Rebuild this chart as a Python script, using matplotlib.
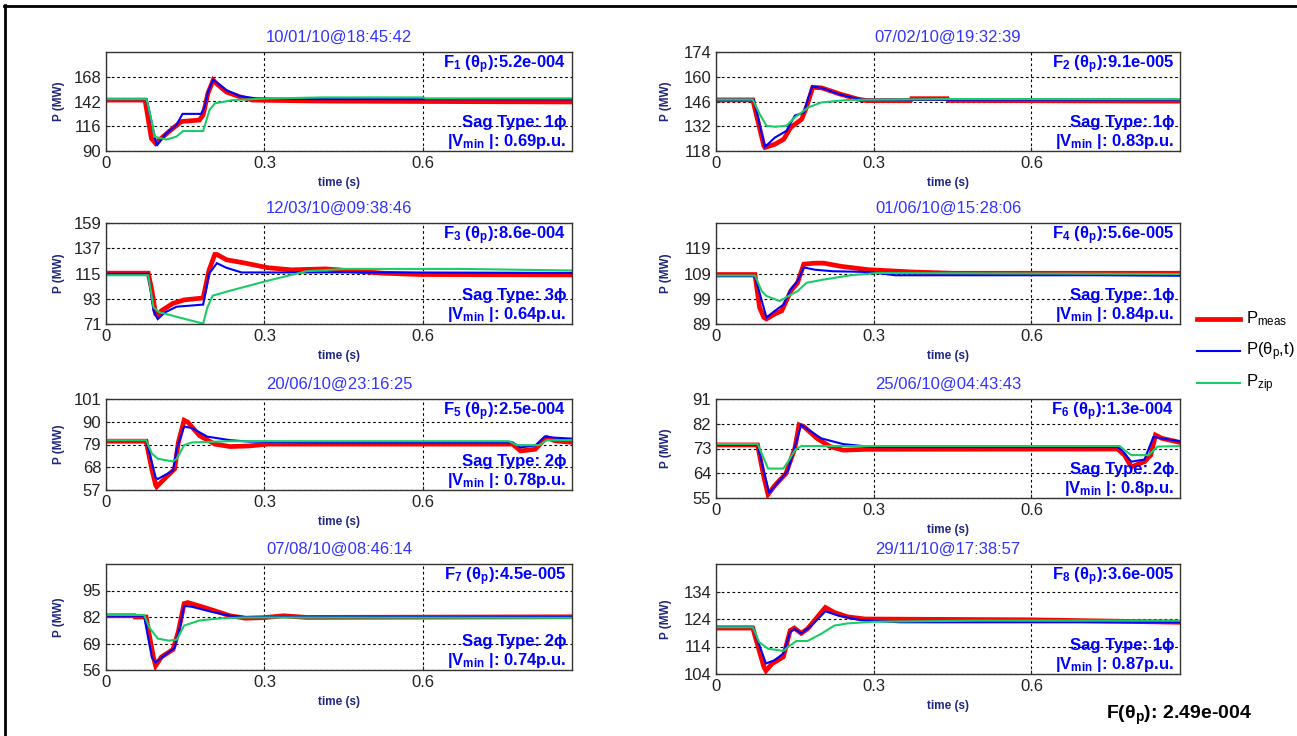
import matplotlib
matplotlib.use("Agg")
import matplotlib.pyplot as plt
from matplotlib.lines import Line2D

plt.rcParams['font.family'] = ['Liberation Sans', 'DejaVu Sans']
plt.rcParams['mathtext.fontset'] = 'custom'
plt.rcParams['mathtext.rm'] = 'Liberation Sans'
plt.rcParams['mathtext.it'] = 'Liberation Sans:italic'
plt.rcParams['mathtext.bf'] = 'Liberation Sans:bold'
plt.rcParams['mathtext.default'] = 'regular'

# ---------------- data (time [s], power [MW]) ----------------
titles = ['10/01/10@18:45:42', '07/02/10@19:32:39', '12/03/10@09:38:46', '01/06/10@15:28:06',
          '20/06/10@23:16:25', '25/06/10@04:43:43', '07/08/10@08:46:14', '29/11/10@17:38:57']
f_values = ['5.2e-004', '9.1e-005', '8.6e-004', '5.6e-005', '2.5e-004', '1.3e-004', '4.5e-005', '3.6e-005']
sag_types = ['1', '1', '3', '1', '2', '2', '2', '1']
v_min = ['0.69', '0.83', '0.64', '0.84', '0.78', '0.8', '0.74', '0.87']
y_ranges = [(90, 194), (118, 174), (71, 159), (89, 129), (57, 101), (55, 91), (56, 108), (104, 144)]
y_ticks = [[90, 116, 142, 168], [118, 132, 146, 160, 174], [71, 93, 115, 137, 159], [89, 99, 109, 119],
           [57, 68, 79, 90, 101], [55, 64, 73, 82, 91], [56, 69, 82, 95], [104, 114, 124, 134]]
x_ticks = [0, 0.3, 0.6]
x_tick_labels = ['0', '0.3', '0.6']
total_f = '2.49e-004'

meas_1 = [(0, 143.5), (0.074, 143.5), (0.086, 103), (0.094, 98), (0.108, 105), (0.127, 114), (0.143, 121),
          (0.177, 122.5), (0.184, 128), (0.193, 150.5), (0.203, 164.5), (0.209, 161), (0.228, 152), (0.253, 147),
          (0.278, 143.5), (0.40, 142.5), (0.60, 142), (0.885, 141.5)]
model_1 = [(0, 144.5), (0.077, 144.5), (0.096, 95.6), (0.114, 108.5), (0.133, 117), (0.145, 129), (0.180, 129),
           (0.187, 136.5), (0.193, 152), (0.203, 165), (0.228, 154), (0.253, 147.7), (0.284, 145.3), (0.40, 144.5),
           (0.885, 144.3)]
zip_1 = [(0, 144.5), (0.077, 144.5), (0.086, 122.5), (0.092, 105), (0.114, 102), (0.133, 105), (0.146, 111),
         (0.184, 111), (0.196, 133), (0.206, 140), (0.240, 143.5), (0.30, 145), (0.41, 146.3), (0.60, 146.3),
         (0.605, 145.3), (0.885, 145.3)]

meas_2 = [(0, 146.9), (0.070, 146.9), (0.091, 120.9), (0.093, 120), (0.112, 121.8), (0.129, 124.7), (0.142, 131.3),
          (0.163, 136), (0.172, 142.7), (0.184, 154), (0.201, 153.7), (0.235, 150.3), (0.269, 147.4), (0.286, 146.5),
          (0.37, 146.5), (0.372, 147.6), (0.44, 147.6), (0.442, 146.6), (0.885, 146.2)]
model_2 = [(0, 147), (0.072, 147), (0.093, 120.3), (0.112, 125.6), (0.134, 129.4), (0.150, 138), (0.167, 139.8),
           (0.176, 148.4), (0.183, 154.5), (0.201, 153.7), (0.235, 150), (0.277, 147), (0.885, 147)]
zip_2 = [(0, 147.1), (0.070, 147.1), (0.083, 138.9), (0.096, 132.3), (0.112, 131.7), (0.134, 132.3), (0.150, 137),
         (0.176, 142.7), (0.201, 145.5), (0.252, 146.9), (0.45, 147.4), (0.885, 147.3)]

meas_3 = [(0, 115.3), (0.080, 115.3), (0.087, 100), (0.094, 79.7), (0.098, 78.2), (0.105, 82.6), (0.127, 89),
          (0.148, 92), (0.184, 93.7), (0.195, 117.6), (0.206, 131.6), (0.210, 131.6), (0.228, 127), (0.264, 124),
          (0.307, 120), (0.351, 118.2), (0.416, 119), (0.524, 115.3), (0.597, 114.1), (0.885, 113.8)]
model_3 = [(0, 114.7), (0.080, 114.7), (0.090, 82.6), (0.098, 75.3), (0.112, 81.2), (0.134, 86.1), (0.184, 87.9),
           (0.195, 114.7), (0.210, 124), (0.228, 120), (0.257, 115.9), (0.50, 116), (0.885, 115.5)]
zip_3 = [(0, 113.5), (0.080, 113.5), (0.090, 85.5), (0.101, 81.2), (0.184, 71.3), (0.192, 85.5), (0.202, 95.7),
         (0.235, 100), (0.307, 108.8), (0.380, 117), (0.452, 119), (0.669, 119), (0.885, 117.6)]

meas_4 = [(0, 108.6), (0.074, 108.6), (0.083, 95.5), (0.091, 91.6), (0.096, 91), (0.112, 93), (0.125, 94.2),
          (0.142, 102), (0.155, 105.3), (0.167, 112.7), (0.188, 113.1), (0.205, 113.1), (0.239, 111.8),
          (0.290, 110.5), (0.374, 109.6), (0.45, 109.1), (0.885, 109.1)]
model_4 = [(0, 107.9), (0.074, 107.9), (0.096, 91.6), (0.112, 94.2), (0.129, 96.8), (0.142, 102.7), (0.155, 106),
           (0.167, 111.4), (0.188, 110.5), (0.222, 109.9), (0.290, 109.6), (0.341, 108.3), (0.72, 108.3),
           (0.885, 108.1)]
zip_4 = [(0, 108.2), (0.074, 108.2), (0.087, 102), (0.096, 100.1), (0.121, 98.1), (0.138, 100.1), (0.155, 102),
         (0.172, 105.3), (0.205, 106.6), (0.256, 108.3), (0.307, 109.2), (0.60, 109), (0.885, 108.8)]

meas_5 = [(0, 80.6), (0.076, 80.6), (0.087, 66.8), (0.094, 59.5), (0.096, 58.6), (0.112, 62.7), (0.130, 67.2),
          (0.137, 80), (0.148, 90.7), (0.155, 89.8), (0.177, 83.3), (0.206, 79.2), (0.235, 78), (0.271, 78.3),
          (0.307, 79.2), (0.50, 79.2), (0.770, 79.2), (0.785, 75.9), (0.813, 76.7), (0.828, 80.8), (0.835, 82.4),
          (0.850, 80.8), (0.885, 80)]
model_5 = [(0, 81.1), (0.076, 81.1), (0.094, 63.1), (0.098, 62.3), (0.127, 66.4), (0.134, 77.1), (0.148, 87.7),
           (0.163, 86.9), (0.192, 82.8), (0.235, 81.1), (0.271, 80.4), (0.40, 80), (0.770, 80), (0.785, 77.6),
           (0.813, 78.5), (0.831, 82.9), (0.850, 82.3), (0.885, 81.8)]
zip_5 = [(0, 81.1), (0.076, 81.1), (0.087, 74.6), (0.098, 72.1), (0.127, 70.8), (0.134, 72.1), (0.148, 78.7),
         (0.163, 80), (0.235, 80.6), (0.763, 80.6), (0.778, 78.7), (0.821, 78.7), (0.835, 81.1), (0.885, 81.1)]

meas_6 = [(0, 74.3), (0.079, 74.3), (0.091, 62.7), (0.099, 56.3), (0.112, 59.6), (0.133, 63.9), (0.150, 73.1),
          (0.158, 81.6), (0.167, 81), (0.192, 76.7), (0.217, 73.7), (0.242, 72.4), (0.285, 72.7), (0.764, 72.8),
          (0.777, 70.6), (0.790, 66.3), (0.815, 68.2), (0.827, 70.6), (0.836, 77.9), (0.848, 76.7), (0.885, 75.1)]
model_6 = [(0, 74.3), (0.079, 74.3), (0.101, 56.8), (0.116, 60.2), (0.137, 65.1), (0.150, 73.7), (0.162, 81.6),
           (0.200, 76.7), (0.242, 74.6), (0.30, 73.5), (0.764, 73.5), (0.772, 72.4), (0.790, 68.2), (0.815, 69),
           (0.832, 77.2), (0.848, 76.7), (0.885, 75.5)]
zip_6 = [(0, 74.6), (0.079, 74.6), (0.091, 69.4), (0.099, 65.7), (0.128, 65.7), (0.137, 68.2), (0.150, 72.4),
         (0.162, 73.9), (0.768, 73.9), (0.777, 72.4), (0.790, 70.6), (0.823, 70.6), (0.840, 73.7), (0.885, 73.9)]

meas_7 = [(0, 82.6), (0.054, 82.6), (0.055, 82), (0.076, 82), (0.083, 71.7), (0.090, 62.1), (0.094, 58.1),
          (0.105, 62.4), (0.127, 66.1), (0.137, 74.9), (0.148, 88.6), (0.155, 89.1), (0.192, 86.2), (0.235, 82.6),
          (0.264, 81.4), (0.300, 81.7), (0.336, 82.6), (0.380, 81.8), (0.885, 82.1)]
model_7 = [(0, 82.6), (0.072, 82.6), (0.087, 62.1), (0.094, 59.7), (0.112, 63.4), (0.130, 66.9), (0.141, 78.2),
           (0.148, 87.5), (0.163, 87), (0.199, 84.6), (0.235, 82.6), (0.264, 82), (0.885, 82)]
zip_7 = [(0, 83), (0.072, 83), (0.083, 76.5), (0.098, 71.4), (0.119, 70.4), (0.134, 70.9), (0.148, 77.8),
         (0.177, 80.3), (0.220, 81.4), (0.264, 81.8), (0.885, 81.6)]

meas_8 = [(0, 120.7), (0.070, 120.7), (0.082, 112.6), (0.091, 106.6), (0.095, 105.2), (0.107, 107.8),
          (0.128, 110.2), (0.141, 119.8), (0.149, 120.7), (0.162, 118.8), (0.174, 120.4), (0.200, 126.4),
          (0.208, 128.2), (0.225, 126.4), (0.250, 124.8), (0.283, 124), (0.60, 123.7), (0.885, 122.8)]
model_8 = [(0, 121.2), (0.070, 121.2), (0.095, 107.8), (0.111, 109), (0.128, 111.4), (0.141, 119.2),
           (0.149, 120.4), (0.162, 118.8), (0.178, 121), (0.200, 125.2), (0.208, 126.8), (0.233, 125.2),
           (0.275, 123.6), (0.35, 122.8), (0.885, 122.8)]
zip_8 = [(0, 121), (0.070, 121), (0.082, 115.6), (0.099, 113.2), (0.128, 112.4), (0.141, 114.4), (0.153, 116),
         (0.174, 116), (0.200, 118.6), (0.225, 121.6), (0.250, 122.4), (0.300, 123), (0.493, 123.4), (0.885, 123.4)]

meas_all = [meas_1, meas_2, meas_3, meas_4, meas_5, meas_6, meas_7, meas_8]
model_all = [model_1, model_2, model_3, model_4, model_5, model_6, model_7, model_8]
zip_all = [zip_1, zip_2, zip_3, zip_4, zip_5, zip_6, zip_7, zip_8]

# ---------------- layout & style ----------------
W, H = 1297, 736
fig = plt.figure(figsize=(W / 100, H / 100), dpi=100)
fig.patch.set_facecolor('white')

boxes = [(106, 52, 572, 151), (716, 52, 1180, 151),
         (106, 223, 572, 324), (716, 223, 1180, 324),
         (106, 399, 572, 490), (716, 399, 1180, 498),
         (106, 564, 572, 670), (716, 564, 1180, 674)]

C_MEAS, C_MODEL, C_ZIP = '#ff0000', '#0000ff', '#19cc66'
C_TITLE, C_ANN, C_LAB = '#3333ff', '#0000ff', '#1f2680'
XMAX = 0.8826

for i, (x0, y0, x1, y1) in enumerate(boxes):
    ax = fig.add_axes([x0 / W, 1 - y1 / H, (x1 - x0) / W, (y1 - y0) / H])
    for series, col, lw in ((meas_all[i], C_MEAS, 3.4), (model_all[i], C_MODEL, 1.5), (zip_all[i], C_ZIP, 1.5)):
        t = [p[0] for p in series]
        v = [p[1] for p in series]
        ax.plot(t, v, color=col, lw=lw, solid_joinstyle='miter')
    ax.set_xlim(0, XMAX)
    ax.set_ylim(*y_ranges[i])
    ax.set_xticks(x_ticks)
    ax.set_xticklabels(x_tick_labels)
    ax.set_yticks(y_ticks[i])
    ax.grid(True, color='black', linestyle=(0, (2.4, 2.4)), linewidth=0.8)
    ax.tick_params(direction='in', length=3, width=0.8, labelsize=12, pad=3.5, colors='#222222')
    for s in ax.spines.values():
        s.set_linewidth(1.0)
        s.set_color('#333333')

    ax.annotate(titles[i], xy=(0.5, 1), xycoords='axes fraction', xytext=(0, 10), textcoords='offset pixels',
                ha='center', va='baseline', fontsize=12, color=C_TITLE)
    ax.annotate('time (s)', xy=(0.5, 0), xycoords='axes fraction', xytext=(0, -35), textcoords='offset pixels',
                ha='center', va='baseline', fontsize=8.5, fontweight='bold', color=C_LAB)
    ax.annotate('P (MW)', xy=(0, 0.5), xycoords='axes fraction', xytext=(-47 if i % 2 == 0 else -50, 0),
                textcoords='offset pixels', ha='center', va='center', rotation=90,
                fontsize=8.5, fontweight='bold', color=C_LAB)

    ax.annotate(r'F$_{%d}$ ($\theta_p$):%s' % (i + 1, f_values[i]), xy=(1, 1), xycoords='axes fraction',
                xytext=(-6, -16), textcoords='offset pixels', ha='right', va='baseline',
                fontsize=12, fontweight='bold', color=C_ANN)
    ax.annotate('Sag Type: %s\u03d5' % sag_types[i], xy=(1, 0), xycoords='axes fraction',
                xytext=(-6, 24), textcoords='offset pixels', ha='right', va='baseline',
                fontsize=12, fontweight='bold', color=C_ANN, family=['Liberation Sans', 'DejaVu Sans'])
    ax.annotate(r'|V$_{min}$ |: %sp.u.' % v_min[i], xy=(1, 0), xycoords='axes fraction',
                xytext=(-6, 5), textcoords='offset pixels', ha='right', va='baseline',
                fontsize=12, fontweight='bold', color=C_ANN)

# ---------------- legend ----------------
leg_items = [(r'P$_{meas}$', C_MEAS, 3.4, 319), (r'P($\theta_p$,t)', C_MODEL, 1.5, 351), (r'P$_{zip}$', C_ZIP, 1.5, 383)]
for label, col, lw, yy in leg_items:
    fig.add_artist(Line2D([1197 / W, 1240 / W], [1 - yy / H, 1 - yy / H], color=col, lw=lw,
                          transform=fig.transFigure))
    fig.text(1246 / W, 1 - (yy + 4) / H, label, fontsize=12, color='black', ha='left', va='baseline')

fig.text(1106 / W, 1 - 719 / H, r'F($\theta_p$): %s' % total_f, fontsize=14, fontweight='bold',
         color='black', ha='left', va='baseline')

# outer frame (left and top edges)
fig.add_artist(Line2D([5 / W, 5 / W], [0, 1 - 5 / H], color='black', lw=2, transform=fig.transFigure))
fig.add_artist(Line2D([4 / W, 1], [1 - 6 / H, 1 - 6 / H], color='black', lw=2, transform=fig.transFigure))

fig.savefig('out.png', dpi=100)
